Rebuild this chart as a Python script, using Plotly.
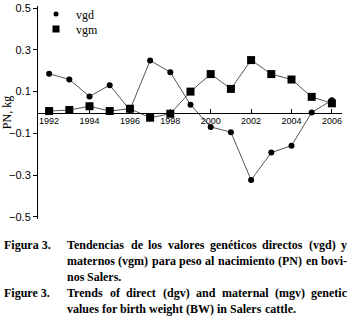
import glob
import struct
import plotly.graph_objects as go

years = list(range(1992, 2007))
vgd = [0.186, 0.158, 0.077, 0.131, 0.012, 0.249, 0.193, 0.037, -0.069, -0.094,
       -0.323, -0.192, -0.159, 0.0, 0.059]
vgm = [0.007, 0.012, 0.030, 0.007, 0.018, -0.025, -0.006, 0.100, 0.184, 0.113,
       0.251, 0.184, 0.158, 0.075, 0.044]
xticks = [1992, 1994, 1996, 1998, 2000, 2002, 2004, 2006]
yticks = [-0.5, -0.3, -0.1, 0.1, 0.3, 0.5]
labels_es = "Figura 3."
labels_en = "Figure 3."
caption_lines = [
    # (label, text, justified)
    (labels_es, "Tendencias de los valores genéticos directos (vgd) y", True),
    (None, "maternos (vgm) para peso al nacimiento (PN) en bovi-", True),
    (None, "nos Salers.", False),
    (labels_en, "Trends of direct (dgv) and maternal (mgv) genetic", True),
    (None, "values for birth weight (BW) in Salers cattle.", False),
]

W, H = 351, 322
ML, MR, MT = 38, 9, 6
PH = 213
MB = H - MT - PH
PW = W - ML - MR
CAP_SIZE = 12
CAP_LEFT, CAP_INDENT, CAP_RIGHT = 4, 67, 347
CAP_Y0, CAP_DY = 245, 16


def px2paper(xp, yp):
    return (xp - ML) / PW, 1 - (yp - MT) / PH


# --- minimal TrueType advance-width reader for justified caption text ---
def load_widths():
    paths = glob.glob("/usr/share/fonts/**/LiberationSerif-Bold.ttf", recursive=True)
    if not paths:
        return None
    data = open(paths[0], "rb").read()
    num = struct.unpack(">H", data[4:6])[0]
    tables = {}
    for i in range(num):
        rec = data[12 + 16 * i: 28 + 16 * i]
        tag = rec[:4].decode("latin-1")
        off, ln = struct.unpack(">II", rec[8:16])
        tables[tag] = off
    upem = struct.unpack(">H", data[tables["head"] + 18: tables["head"] + 20])[0]
    nhm = struct.unpack(">H", data[tables["hhea"] + 34: tables["hhea"] + 36])[0]
    hm = tables["hmtx"]
    cm = tables["cmap"]
    nsub = struct.unpack(">H", data[cm + 2: cm + 4])[0]
    sub = None
    for i in range(nsub):
        pid, eid, off = struct.unpack(">HHI", data[cm + 4 + 8 * i: cm + 12 + 8 * i])
        if pid == 3 and eid == 1:
            sub = cm + off
    if sub is None:
        return None
    segx2 = struct.unpack(">H", data[sub + 6: sub + 8])[0]
    seg = segx2 // 2
    ends = struct.unpack(">%dH" % seg, data[sub + 14: sub + 14 + segx2])
    starts = struct.unpack(">%dH" % seg, data[sub + 16 + segx2: sub + 16 + 2 * segx2])
    deltas = struct.unpack(">%dh" % seg, data[sub + 16 + 2 * segx2: sub + 16 + 3 * segx2])
    ro_base = sub + 16 + 3 * segx2
    ros = struct.unpack(">%dH" % seg, data[ro_base: ro_base + segx2])

    def gid(c):
        for i in range(seg):
            if ends[i] >= c:
                if starts[i] > c:
                    return 0
                if ros[i] == 0:
                    return (c + deltas[i]) & 0xFFFF
                addr = ro_base + 2 * i + ros[i] + 2 * (c - starts[i])
                g = struct.unpack(">H", data[addr: addr + 2])[0]
                return (g + deltas[i]) & 0xFFFF if g else 0
        return 0

    def adv(ch):
        g = gid(ord(ch))
        g = min(g, nhm - 1)
        return struct.unpack(">H", data[hm + 4 * g: hm + 4 * g + 2])[0] / upem

    return adv


adv = load_widths()


def text_width(s, size):
    if adv is None:
        return 0.5 * size * len(s)
    return sum(adv(c) for c in s) * size


fig = go.Figure()
fig.add_trace(go.Scatter(x=years, y=vgd, mode="lines+markers", showlegend=False,
                         line=dict(color="#555555", width=1),
                         marker=dict(symbol="circle", size=6, color="black")))
fig.add_trace(go.Scatter(x=years, y=vgm, mode="lines+markers", showlegend=False,
                         line=dict(color="#555555", width=1),
                         marker=dict(symbol="square", size=8, color="black")))
fig.add_trace(go.Scatter(x=[None], y=[None], mode="markers", name="vgd", legend="legend",
                         marker=dict(symbol="circle", size=5, color="black")))
fig.add_trace(go.Scatter(x=[None], y=[None], mode="markers", name="vgm", legend="legend2",
                         marker=dict(symbol="square", size=7, color="black")))


def add_word(word, xp, yp):
    ax, ay = px2paper(xp - 2, yp)
    fig.add_annotation(text="<b>" + word + "</b>", x=ax, y=ay, xref="paper", yref="paper",
                       xanchor="left", yanchor="middle", showarrow=False,
                       font=dict(family="Liberation Serif", size=CAP_SIZE, color="black"))


space_w = text_width(" ", CAP_SIZE)
for i, (label, text, justified) in enumerate(caption_lines):
    yp = CAP_Y0 + i * CAP_DY
    if label:
        add_word(label, CAP_LEFT, yp)
    words = text.split(" ")
    widths = [text_width(w, CAP_SIZE) for w in words]
    if justified and len(words) > 1:
        gap = (CAP_RIGHT - CAP_INDENT - sum(widths)) / (len(words) - 1)
    else:
        gap = space_w
    x = CAP_INDENT
    for w, wd in zip(words, widths):
        add_word(w, x, yp)
        x += wd + gap

leg_common = dict(xanchor="left", yanchor="middle", itemwidth=30, tracegroupgap=0,
                  bgcolor="rgba(0,0,0,0)",
                  font=dict(family="Liberation Serif", size=12, color="black"))
lx, ly1 = px2paper(36, 14)
_, ly2 = px2paper(36, 29)

fig.update_layout(
    width=W, height=H,
    margin=dict(l=ML, r=MR, t=MT, b=MB, autoexpand=False),
    paper_bgcolor="white", plot_bgcolor="white",
    showlegend=True,
    legend=dict(x=lx, y=ly1, **leg_common),
    legend2=dict(x=lx, y=ly2, **leg_common),
    xaxis=dict(range=[1991.45, 2006.5], anchor="free", position=0.5, automargin=False,
               tickvals=xticks, ticks="inside", ticklen=4, tickcolor="black",
               ticklabeloverflow="allow",
               showline=True, linecolor="black", linewidth=1, showgrid=False,
               zeroline=False,
               tickfont=dict(family="Liberation Sans", size=9, color="black")),
    yaxis=dict(range=[-0.51, 0.51], tickvals=yticks, tickformat=".1f", automargin=False,
               ticks="outside", ticklen=4, tickcolor="black",
               showline=True, linecolor="black", linewidth=1, showgrid=False,
               zeroline=False,
               title=dict(text="PN, kg", standoff=2,
                          font=dict(family="Liberation Serif", size=12, color="black")),
               tickfont=dict(family="Liberation Sans", size=11, color="black")),
)

fig.write_html("out.html", config={"displayModeBar": False},
               post_script="document.body.style.margin='0';")
